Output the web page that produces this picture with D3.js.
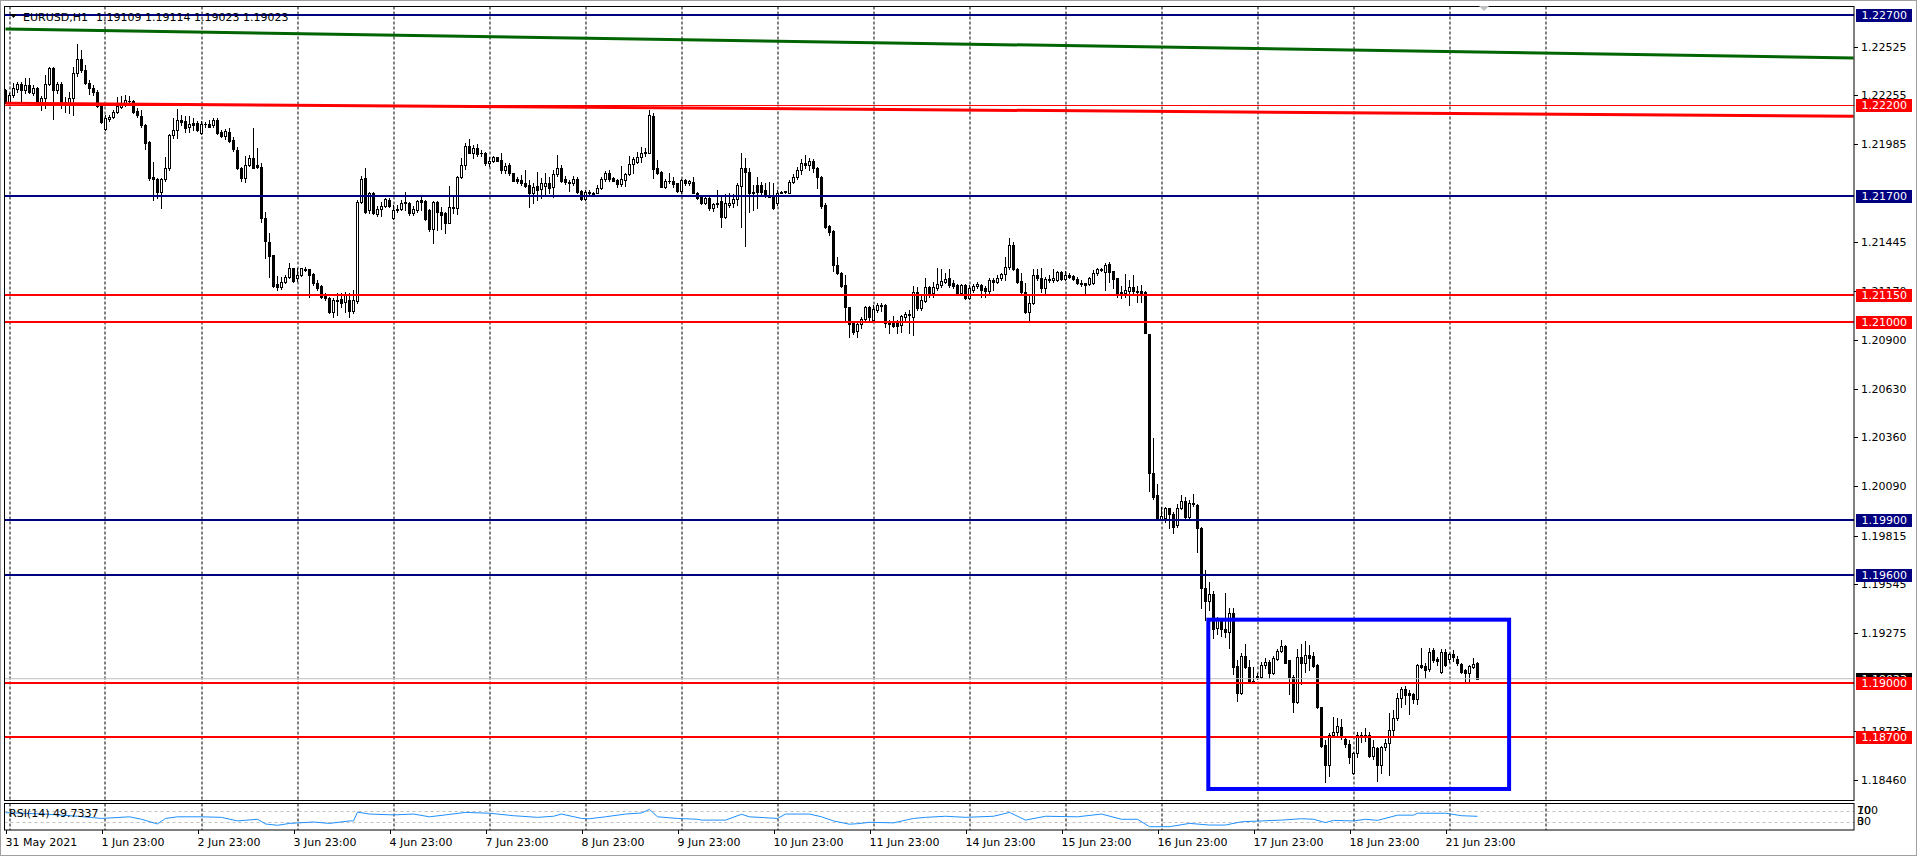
<!DOCTYPE html>
<html><head><meta charset="utf-8">
<script src="https://cdn.jsdelivr.net/npm/d3@7"></script>
<style>html,body{margin:0;padding:0;background:#fff;overflow:hidden}svg{display:block}text{font-family:"DejaVu Sans",sans-serif;font-size:11px}</style>
</head><body>
<script>
// ---- data ----
const symbolTitle = "EURUSD,H1";
const headerPrices = "1.19109 1.19114 1.19023 1.19023";
const opens = [1.22285,1.22220,1.22257,1.22288,1.22316,1.22285,1.22312,1.22270,1.22294,1.22220,1.22238,1.22316,1.22405,1.22285,1.22316,1.22220,1.22211,1.22238,1.22381,1.22454,1.22395,1.22321,1.22294,1.22275,1.22196,1.22067,1.22122,1.22137,1.22164,1.22192,1.22211,1.22225,1.22224,1.22170,1.22140,1.22091,1.21996,1.21804,1.21790,1.21721,1.21790,1.21851,1.22035,1.22063,1.22118,1.22115,1.22078,1.22100,1.22100,1.22044,1.22096,1.22094,1.22091,1.22118,1.22052,1.22030,1.22054,1.22007,1.21952,1.21854,1.21799,1.21869,1.21906,1.21869,1.21860,1.21577,1.21440,1.21368,1.21208,1.21191,1.21223,1.21247,1.21296,1.21241,1.21259,1.21295,1.21291,1.21263,1.21213,1.21199,1.21149,1.21130,1.21056,1.21121,1.21125,1.21112,1.21121,1.21060,1.21117,1.21666,1.21795,1.21620,1.21712,1.21597,1.21623,1.21642,1.21675,1.21573,1.21627,1.21623,1.21666,1.21660,1.21601,1.21620,1.21675,1.21669,1.21620,1.21512,1.21666,1.21608,1.21601,1.21549,1.21638,1.21629,1.21804,1.21869,1.21974,1.21937,1.21961,1.21935,1.21937,1.21878,1.21891,1.21911,1.21897,1.21841,1.21869,1.21823,1.21789,1.21786,1.21771,1.21758,1.21716,1.21752,1.21734,1.21752,1.21767,1.21745,1.21819,1.21850,1.21789,1.21776,1.21767,1.21789,1.21726,1.21679,1.21721,1.21712,1.21716,1.21740,1.21789,1.21826,1.21795,1.21786,1.21763,1.21786,1.21819,1.21874,1.21887,1.21911,1.21937,1.21937,1.22140,1.21850,1.21832,1.21749,1.21782,1.21782,1.21767,1.21726,1.21786,1.21767,1.21776,1.21716,1.21693,1.21656,1.21684,1.21629,1.21653,1.21670,1.21583,1.21647,1.21656,1.21679,1.21752,1.21850,1.21830,1.21712,1.21758,1.21758,1.21731,1.21703,1.21694,1.21661,1.21716,1.21721,1.21716,1.21777,1.21800,1.21840,1.21880,1.21870,1.21890,1.21850,1.21800,1.21647,1.21531,1.21505,1.21315,1.21273,1.21204,1.21080,1.20992,1.20951,1.20988,1.21014,1.21084,1.21010,1.21066,1.21093,1.21091,1.21001,1.20992,1.20992,1.20983,1.21025,1.21043,1.21025,1.21167,1.21075,1.21117,1.21195,1.21158,1.21186,1.21204,1.21223,1.21241,1.21213,1.21204,1.21162,1.21204,1.21130,1.21177,1.21199,1.21204,1.21190,1.21173,1.21232,1.21223,1.21245,1.21265,1.21302,1.21426,1.21291,1.21227,1.21167,1.21056,1.21103,1.21260,1.21245,1.21186,1.21236,1.21232,1.21232,1.21278,1.21236,1.21260,1.21254,1.21236,1.21218,1.21213,1.21210,1.21213,1.21273,1.21291,1.21278,1.21320,1.21280,1.21242,1.21165,1.21160,1.21173,1.21192,1.21173,1.21173,1.21165,1.20931,1.20162,1.20040,1.19910,1.19914,1.19967,1.19938,1.19872,1.19967,1.20009,1.19919,1.19996,1.19986,1.19856,1.19524,1.19456,1.19494,1.19303,1.19347,1.19299,1.19284,1.19385,1.19093,1.18946,1.19150,1.19089,1.19008,1.19030,1.19032,1.19099,1.19118,1.19055,1.19131,1.19175,1.19204,1.19124,1.19032,1.18895,1.19143,1.19108,1.19156,1.19149,1.19099,1.18864,1.18656,1.18545,1.18711,1.18730,1.18757,1.18687,1.18661,1.18499,1.18613,1.18711,1.18702,1.18711,1.18595,1.18637,1.18545,1.18643,1.18669,1.18739,1.18804,1.18914,1.18964,1.18942,1.18938,1.18909,1.19099,1.19094,1.19075,1.19182,1.19130,1.19062,1.19173,1.19131,1.19160,1.19131,1.19105,1.19071,1.19053,1.19090,1.19109];
const highs = [1.22288,1.22266,1.22321,1.22331,1.22331,1.22349,1.22349,1.22312,1.22299,1.22251,1.22368,1.22410,1.22410,1.22331,1.22331,1.22248,1.22275,1.22410,1.22539,1.22506,1.22423,1.22340,1.22312,1.22285,1.22201,1.22146,1.22146,1.22174,1.22248,1.22251,1.22255,1.22251,1.22229,1.22183,1.22174,1.22096,1.22002,1.21887,1.21795,1.21795,1.21915,1.22041,1.22128,1.22177,1.22146,1.22140,1.22140,1.22128,1.22115,1.22115,1.22109,1.22118,1.22128,1.22128,1.22063,1.22067,1.22072,1.22026,1.21967,1.21860,1.21919,1.21924,1.22072,1.21961,1.21882,1.21611,1.21490,1.21370,1.21256,1.21250,1.21259,1.21328,1.21300,1.21296,1.21300,1.21306,1.21295,1.21269,1.21232,1.21204,1.21158,1.21140,1.21130,1.21158,1.21158,1.21167,1.21158,1.21176,1.21675,1.21808,1.21854,1.21721,1.21721,1.21642,1.21666,1.21688,1.21688,1.21647,1.21647,1.21675,1.21719,1.21666,1.21642,1.21675,1.21699,1.21675,1.21623,1.21669,1.21669,1.21638,1.21610,1.21752,1.21693,1.21808,1.21906,1.21993,1.22011,1.21980,1.21985,1.21952,1.21943,1.21915,1.21919,1.21915,1.21937,1.21878,1.21878,1.21826,1.21800,1.21813,1.21841,1.21786,1.21771,1.21832,1.21795,1.21823,1.21800,1.21841,1.21924,1.21869,1.21808,1.21786,1.21808,1.21800,1.21730,1.21730,1.21730,1.21721,1.21758,1.21800,1.21837,1.21841,1.21800,1.21790,1.21863,1.21826,1.21919,1.21911,1.21943,1.21970,1.21961,1.22174,1.22155,1.21897,1.21837,1.21789,1.21826,1.21804,1.21771,1.21790,1.21790,1.21786,1.21800,1.21721,1.21703,1.21690,1.21690,1.21660,1.21730,1.21703,1.21708,1.21716,1.21708,1.21767,1.21937,1.21910,1.21850,1.21760,1.21800,1.21777,1.21768,1.21777,1.21768,1.21731,1.21725,1.21727,1.21786,1.21820,1.21860,1.21900,1.21925,1.21910,1.21900,1.21860,1.21810,1.21657,1.21537,1.21509,1.21361,1.21278,1.21260,1.21084,1.21001,1.21001,1.21025,1.21088,1.21088,1.21093,1.21106,1.21103,1.21099,1.21010,1.21033,1.21010,1.21038,1.21056,1.21066,1.21199,1.21195,1.21149,1.21241,1.21199,1.21223,1.21297,1.21291,1.21269,1.21291,1.21232,1.21209,1.21209,1.21209,1.21204,1.21209,1.21223,1.21209,1.21199,1.21241,1.21241,1.21260,1.21273,1.21361,1.21463,1.21444,1.21297,1.21269,1.21213,1.21149,1.21291,1.21291,1.21297,1.21250,1.21260,1.21291,1.21284,1.21284,1.21284,1.21269,1.21260,1.21250,1.21232,1.21217,1.21250,1.21287,1.21297,1.21297,1.21324,1.21334,1.21284,1.21245,1.21198,1.21264,1.21230,1.21261,1.21198,1.21203,1.21169,1.20935,1.20358,1.20104,1.19977,1.19977,1.19971,1.19948,1.19990,1.20040,1.20028,1.20015,1.20047,1.19990,1.19862,1.19627,1.19557,1.19509,1.19366,1.19356,1.19500,1.19414,1.19414,1.19127,1.19166,1.19213,1.19127,1.19089,1.19055,1.19118,1.19137,1.19127,1.19147,1.19185,1.19238,1.19208,1.19127,1.19042,1.19185,1.19213,1.19232,1.19208,1.19173,1.19105,1.18868,1.18683,1.18720,1.18813,1.18804,1.18798,1.18702,1.18683,1.18619,1.18730,1.18730,1.18748,1.18730,1.18683,1.18647,1.18650,1.18687,1.18835,1.18850,1.18942,1.18975,1.18983,1.18960,1.18946,1.19105,1.19191,1.19108,1.19191,1.19191,1.19142,1.19186,1.19186,1.19167,1.19182,1.19149,1.19112,1.19075,1.19099,1.19136,1.19114];
const lows = [1.22214,1.22214,1.22248,1.22275,1.22225,1.22266,1.22266,1.22257,1.22214,1.22174,1.22183,1.22312,1.22122,1.22266,1.22183,1.22164,1.22155,1.22146,1.22362,1.22386,1.22316,1.22261,1.22257,1.22192,1.22104,1.22063,1.22115,1.22128,1.22155,1.22183,1.22196,1.22201,1.22159,1.22137,1.22081,1.21956,1.21786,1.21675,1.21684,1.21629,1.21782,1.21841,1.22017,1.22017,1.22091,1.22054,1.22054,1.22063,1.22059,1.22041,1.22081,1.22078,1.22081,1.22041,1.22022,1.22011,1.21998,1.21948,1.21845,1.21780,1.21777,1.21863,1.21851,1.21851,1.21555,1.21352,1.21250,1.21195,1.21176,1.21180,1.21217,1.21241,1.21223,1.21228,1.21254,1.21283,1.21140,1.21204,1.21176,1.21130,1.21121,1.21047,1.21029,1.21038,1.21084,1.21056,1.21025,1.21051,1.21106,1.21657,1.21605,1.21601,1.21597,1.21586,1.21586,1.21634,1.21634,1.21568,1.21610,1.21620,1.21620,1.21592,1.21592,1.21610,1.21620,1.21564,1.21505,1.21438,1.21509,1.21512,1.21494,1.21546,1.21601,1.21597,1.21795,1.21845,1.21933,1.21906,1.21919,1.21919,1.21869,1.21863,1.21887,1.21891,1.21823,1.21823,1.21813,1.21782,1.21767,1.21758,1.21749,1.21634,1.21660,1.21675,1.21684,1.21703,1.21716,1.21693,1.21808,1.21776,1.21763,1.21726,1.21758,1.21716,1.21675,1.21675,1.21708,1.21703,1.21712,1.21734,1.21782,1.21782,1.21782,1.21745,1.21752,1.21752,1.21813,1.21826,1.21878,1.21887,1.21919,1.21933,1.21799,1.21819,1.21745,1.21740,1.21771,1.21745,1.21721,1.21712,1.21758,1.21758,1.21712,1.21679,1.21652,1.21652,1.21620,1.21616,1.21634,1.21523,1.21573,1.21638,1.21634,1.21647,1.21523,1.21422,1.21611,1.21620,1.21629,1.21703,1.21694,1.21690,1.21624,1.21648,1.21712,1.21716,1.21712,1.21770,1.21790,1.21820,1.21850,1.21840,1.21830,1.21740,1.21630,1.21518,1.21481,1.21284,1.21265,1.21195,1.21001,1.20914,1.20933,1.20918,1.20964,1.21010,1.21010,1.21001,1.21056,1.21062,1.20973,1.20940,1.20973,1.20936,1.20946,1.21010,1.20936,1.20927,1.21066,1.21066,1.21112,1.21140,1.21140,1.21177,1.21195,1.21213,1.21195,1.21186,1.21158,1.21158,1.21125,1.21125,1.21167,1.21190,1.21136,1.21140,1.21158,1.21177,1.21213,1.21232,1.21232,1.21291,1.21287,1.21218,1.21162,1.21047,1.21001,1.21099,1.21232,1.21167,1.21162,1.21223,1.21223,1.21227,1.21232,1.21232,1.21241,1.21232,1.21210,1.21199,1.21158,1.21204,1.21210,1.21260,1.21284,1.21177,1.21223,1.21188,1.21140,1.21131,1.21140,1.21093,1.21160,1.21112,1.21112,1.20940,1.20062,1.20020,1.19906,1.19900,1.19891,1.19856,1.19830,1.19862,1.19963,1.19914,1.19914,1.19982,1.19723,1.19414,1.19347,1.19404,1.19246,1.19271,1.19261,1.19252,1.19194,1.19047,1.18899,1.18937,1.19080,1.18998,1.19003,1.19022,1.19028,1.19085,1.19028,1.19047,1.19124,1.19169,1.19108,1.18937,1.18838,1.18889,1.18994,1.19061,1.19070,1.19086,1.18859,1.18647,1.18453,1.18484,1.18702,1.18702,1.18687,1.18647,1.18554,1.18495,1.18591,1.18674,1.18680,1.18587,1.18576,1.18458,1.18502,1.18628,1.18489,1.18702,1.18795,1.18868,1.18883,1.18827,1.18887,1.18883,1.19081,1.19025,1.19068,1.19118,1.19099,1.19057,1.19094,1.19118,1.19123,1.19099,1.19057,1.18997,1.19007,1.19081,1.19023];
const closes = [1.22220,1.22257,1.22294,1.22316,1.22285,1.22312,1.22272,1.22294,1.22220,1.22238,1.22316,1.22405,1.22285,1.22316,1.22220,1.22211,1.22238,1.22377,1.22454,1.22395,1.22321,1.22294,1.22275,1.22196,1.22109,1.22128,1.22137,1.22164,1.22196,1.22214,1.22229,1.22222,1.22164,1.22146,1.22091,1.21993,1.21799,1.21790,1.21721,1.21790,1.21851,1.22035,1.22063,1.22118,1.22109,1.22072,1.22094,1.22091,1.22063,1.22096,1.22094,1.22081,1.22118,1.22044,1.22030,1.22057,1.22004,1.21956,1.21854,1.21799,1.21869,1.21906,1.21854,1.21860,1.21577,1.21450,1.21365,1.21199,1.21191,1.21223,1.21247,1.21296,1.21228,1.21259,1.21296,1.21287,1.21259,1.21213,1.21189,1.21140,1.21130,1.21056,1.21121,1.21117,1.21106,1.21149,1.21060,1.21121,1.21666,1.21790,1.21611,1.21712,1.21601,1.21623,1.21642,1.21679,1.21642,1.21620,1.21620,1.21660,1.21656,1.21601,1.21623,1.21669,1.21666,1.21568,1.21512,1.21666,1.21610,1.21592,1.21549,1.21638,1.21629,1.21804,1.21869,1.21974,1.21937,1.21961,1.21930,1.21937,1.21878,1.21891,1.21911,1.21893,1.21841,1.21863,1.21823,1.21782,1.21782,1.21767,1.21752,1.21716,1.21749,1.21730,1.21767,1.21771,1.21740,1.21819,1.21850,1.21782,1.21776,1.21771,1.21789,1.21721,1.21679,1.21721,1.21712,1.21710,1.21740,1.21789,1.21826,1.21789,1.21782,1.21763,1.21789,1.21819,1.21874,1.21900,1.21911,1.21937,1.21943,1.22146,1.21845,1.21823,1.21749,1.21782,1.21780,1.21763,1.21726,1.21786,1.21767,1.21780,1.21716,1.21684,1.21656,1.21684,1.21629,1.21653,1.21660,1.21579,1.21656,1.21656,1.21679,1.21758,1.21850,1.21830,1.21712,1.21721,1.21721,1.21721,1.21703,1.21694,1.21629,1.21716,1.21721,1.21723,1.21777,1.21800,1.21840,1.21880,1.21870,1.21890,1.21850,1.21800,1.21642,1.21527,1.21500,1.21315,1.21273,1.21199,1.21080,1.20988,1.20946,1.20988,1.21014,1.21084,1.21029,1.21069,1.21093,1.21089,1.20996,1.20988,1.20979,1.20979,1.21033,1.21043,1.21038,1.21167,1.21075,1.21121,1.21195,1.21149,1.21191,1.21209,1.21227,1.21237,1.21204,1.21199,1.21162,1.21204,1.21130,1.21186,1.21199,1.21210,1.21177,1.21173,1.21232,1.21220,1.21245,1.21265,1.21302,1.21426,1.21291,1.21223,1.21167,1.21056,1.21103,1.21260,1.21245,1.21186,1.21236,1.21232,1.21241,1.21278,1.21236,1.21260,1.21250,1.21236,1.21213,1.21210,1.21206,1.21241,1.21273,1.21291,1.21289,1.21315,1.21278,1.21236,1.21150,1.21154,1.21179,1.21192,1.21173,1.21165,1.21160,1.20940,1.20162,1.20028,1.19910,1.19925,1.19967,1.19933,1.19862,1.19967,1.20009,1.19919,1.19996,1.19990,1.19856,1.19528,1.19456,1.19494,1.19299,1.19347,1.19299,1.19284,1.19385,1.19089,1.18946,1.19147,1.19089,1.19003,1.19013,1.19036,1.19099,1.19118,1.19055,1.19137,1.19175,1.19204,1.19112,1.19032,1.18895,1.19143,1.19108,1.19156,1.19137,1.19093,1.18864,1.18650,1.18545,1.18711,1.18730,1.18761,1.18698,1.18661,1.18591,1.18613,1.18711,1.18702,1.18711,1.18595,1.18643,1.18545,1.18643,1.18669,1.18739,1.18804,1.18914,1.18964,1.18933,1.18933,1.18909,1.19099,1.19090,1.19071,1.19173,1.19127,1.19123,1.19173,1.19099,1.19160,1.19142,1.19108,1.19062,1.19053,1.19094,1.19105,1.19023];

const rsiIdx  = [0,10,18,24,31,34,38,40,43,49,54,58,63,65,68,71,77,81,86,87,88,91,97,102,106,110,115,121,127,133,137,139,144,146,150,155,159,161,163,168,173,174,180,184,186,193,195,201,204,207,211,213,216,222,227,230,235,240,247,251,255,260,268,274,279,283,286,291,296,301,305,309,314,319,324,327,330,332,337,340,343,348,352,353,360,364,368];
const rsiVals = [63,58,50,42,48,39,22,42,48,48,46,33,39,22,17,24,29,24,33,33,65,58,55,58,48,55,64,61,52,46,50,58,42,41,48,58,62,75,48,42,39,36,36,57,48,42,58,58,48,33,21,23,28,26,42,46,50,46,50,64,36,50,48,58,39,39,12,12,24,18,18,30,33,36,41,39,27,35,33,39,35,54,54,61,61,52,49.7337];
const rsiLabel = "RSI(14) 49.7337";
const rsiLevels = [70, 30];
const rsiScaleLabels = ["100", "70", "30", "0"];
const rsiScaleValues = [70, 70, 30, 30];

const priceTicks = [1.22525,1.22255,1.21985,1.21445,1.21170,1.20900,1.20630,1.20360,1.20090,1.19815,1.19545,1.19275,1.18735,1.18460];
const timeLabels = ["31 May 2021","1 Jun 23:00","2 Jun 23:00","3 Jun 23:00","4 Jun 23:00","7 Jun 23:00","8 Jun 23:00","9 Jun 23:00","10 Jun 23:00","11 Jun 23:00","14 Jun 23:00","15 Jun 23:00","16 Jun 23:00","17 Jun 23:00","18 Jun 23:00","21 Jun 23:00"];
const timeLabelBars = [0,24,48,72,96,120,144,168,192,216,240,264,288,312,336,360];
const gridBars = [1,25,49,73,97,121,145,169,193,217,241,265,289,313,337,361,385];

const navyLevels = [1.22700, 1.21700, 1.19900, 1.19600];
const redLevels  = [1.21150, 1.21000, 1.19000, 1.18700];
const thinRedLevels = [1.22200];
const currentPrice = 1.19023;
const greenTrend = [[0, 1.22622], [462, 1.22462]];
const redTrend   = [[0, 1.22211], [462, 1.22139]];
const boxBars = [300.7, 375.9];
const boxPrices = [1.19350, 1.18412];

// ---- drawing ----
const W = 1919, H = 858;
const L = 4.5, R = 1854, T = 6.5, B = 800.5, RT = 803.5, RB = 830;
const svg = d3.select("body").append("svg").attr("width", W).attr("height", H);

const x = d3.scaleLinear().domain([0, 368]).range([5.5, 5.5 + 4 * 368]);
const y = d3.scaleLinear().domain([1.187, 1.227]).range([737, 15]);
const ry = d3.scaleLinear().domain([0, 100]).range([RB, 802.5]);

// window border
svg.append("rect").attr("x", 0.5).attr("y", 0.5).attr("width", W - 3).attr("height", 855).attr("fill", "none").attr("stroke", "#a0a0a0");

const defs = svg.append("defs");
defs.append("clipPath").attr("id", "main").append("rect").attr("x", L).attr("y", T).attr("width", R - L).attr("height", B - T);
defs.append("clipPath").attr("id", "rsi").append("rect").attr("x", L).attr("y", RT).attr("width", R - L).attr("height", RB - RT);

// vertical dashed grid
const gridG = svg.append("g");
gridBars.forEach(b => {
  const gx = Math.round(x(b));
  gridG.append("line").attr("x1", gx).attr("x2", gx).attr("y1", T).attr("y2", B)
    .attr("stroke", "#000").attr("stroke-dasharray", "3,2");
  gridG.append("line").attr("x1", gx).attr("x2", gx).attr("y1", RT).attr("y2", RB)
    .attr("stroke", "#000").attr("stroke-dasharray", "3,2");
});

// candles
const cg = svg.append("g").attr("clip-path", "url(#main)");
opens.forEach((o, i) => {
  const c = closes[i], h = highs[i], l = lows[i];
  const cx = x(i);
  cg.append("line").attr("x1", cx).attr("x2", cx).attr("y1", Math.round(y(h))).attr("y2", Math.round(y(l)) + 1)
    .attr("stroke", "#000").attr("stroke-width", 1);
  const top = Math.round(y(Math.max(o, c))), bot = Math.round(y(Math.min(o, c)));
  if (c < o) {
    cg.append("rect").attr("x", cx - 1.5).attr("y", top).attr("width", 3).attr("height", Math.max(1, bot - top + 1)).attr("fill", "#000");
  } else if (bot - top < 1) {
    cg.append("rect").attr("x", cx - 1.5).attr("y", top).attr("width", 3).attr("height", 1).attr("fill", "#000");
  } else {
    cg.append("rect").attr("x", cx - 1).attr("y", top + 0.5).attr("width", 2).attr("height", bot - top)
      .attr("fill", "#fff").attr("stroke", "#000").attr("stroke-width", 1);
  }
});

// objects (on top of candles)
const og = svg.append("g").attr("clip-path", "url(#main)");
og.append("line").attr("x1", L).attr("x2", R).attr("y1", y(currentPrice)).attr("y2", y(currentPrice)).attr("stroke", "#c0c0c0");
const line = d3.line().x(d => x(d[0])).y(d => y(d[1]));
og.append("path").attr("d", line(greenTrend)).attr("stroke", "#006400").attr("stroke-width", 3).attr("fill", "none");
og.append("path").attr("d", line(redTrend)).attr("stroke", "#ff0000").attr("stroke-width", 3).attr("fill", "none");
thinRedLevels.forEach(p => og.append("line").attr("x1", L).attr("x2", R).attr("y1", Math.round(y(p)) + 0.5).attr("y2", Math.round(y(p)) + 0.5).attr("stroke", "#ff0000").attr("stroke-width", 1));
navyLevels.forEach(p => og.append("line").attr("x1", L).attr("x2", R).attr("y1", Math.round(y(p))).attr("y2", Math.round(y(p))).attr("stroke", "#000080").attr("stroke-width", 2));
redLevels.forEach(p => og.append("line").attr("x1", L).attr("x2", R).attr("y1", Math.round(y(p))).attr("y2", Math.round(y(p))).attr("stroke", "#ff0000").attr("stroke-width", 2));
og.append("rect").attr("x", x(boxBars[0])).attr("y", y(boxPrices[0])).attr("width", x(boxBars[1]) - x(boxBars[0]))
  .attr("height", y(boxPrices[1]) - y(boxPrices[0])).attr("fill", "none").attr("stroke", "#0000ff").attr("stroke-width", 4);

// RSI panel
const rg = svg.append("g").attr("clip-path", "url(#rsi)");
rsiLevels.forEach(v => rg.append("line").attr("x1", L).attr("x2", R).attr("y1", Math.round(ry(v)) + 0.5).attr("y2", Math.round(ry(v)) + 0.5)
  .attr("stroke", "#c0c0c0").attr("stroke-dasharray", "3,3"));
const rline = d3.line().x((d, k) => x(rsiIdx[k])).y(d => ry(d));
rg.append("path").attr("d", rline(rsiVals)).attr("fill", "none").attr("stroke", "#1e90ff").attr("stroke-width", 1);
svg.append("text").attr("x", 9).attr("y", 813).attr("dominant-baseline", "central").attr("fill", "#000").text(rsiLabel);

// frames
svg.append("rect").attr("x", L).attr("y", T).attr("width", R - L).attr("height", B - T).attr("fill", "none").attr("stroke", "#000");
svg.append("rect").attr("x", L).attr("y", RT).attr("width", R - L).attr("height", RB - RT).attr("fill", "none").attr("stroke", "#000");

// price axis ticks and labels
const ag = svg.append("g");
priceTicks.forEach(p => {
  const ty = Math.round(y(p)) + 0.5;
  ag.append("line").attr("x1", R).attr("x2", R + 4).attr("y1", ty).attr("y2", ty).attr("stroke", "#000");
  ag.append("text").attr("x", 1861).attr("y", ty).attr("dominant-baseline", "central").attr("fill", "#000").text(p.toFixed(5));
});
rsiScaleLabels.forEach((t, k) => {
  ag.append("text").attr("x", 1857).attr("y", ry(rsiScaleValues[k])).attr("dominant-baseline", "central").attr("fill", "#000").text(t);
});

function priceLabel(p, bg) {
  const ly = Math.round(y(p));
  ag.append("rect").attr("x", 1856).attr("y", ly - 6).attr("width", 56).attr("height", 13).attr("fill", bg);
  ag.append("text").attr("x", 1861.5).attr("y", ly + 0.5).attr("dominant-baseline", "central").attr("fill", "#fff").text(p.toFixed(5));
}
priceLabel(currentPrice, "#000");
navyLevels.forEach(p => priceLabel(p, "#000080"));
thinRedLevels.concat(redLevels).forEach(p => priceLabel(p, "#ff0000"));

// time axis
timeLabels.forEach((t, k) => {
  const tx = Math.round(x(timeLabelBars[k])) + 0.5;
  svg.append("line").attr("x1", tx).attr("x2", tx).attr("y1", RB).attr("y2", RB + 4).attr("stroke", "#000");
  svg.append("text").attr("x", tx - 1).attr("y", 842).attr("dominant-baseline", "central").attr("fill", "#000").text(t);
});

// header
svg.append("path").attr("d", "M10,14 L17,14 L13.5,18 Z").attr("fill", "#000");
svg.append("text").attr("x", 23).attr("y", 17).attr("dominant-baseline", "central").attr("fill", "#000").text(symbolTitle);
svg.append("text").attr("x", 96).attr("y", 17).attr("dominant-baseline", "central").attr("fill", "#000").text(headerPrices);
// chart shift marker
svg.append("path").attr("d", "M1479,6 L1489,6 L1484,11 Z").attr("fill", "#c0c0c0");
</script>
</body></html>
